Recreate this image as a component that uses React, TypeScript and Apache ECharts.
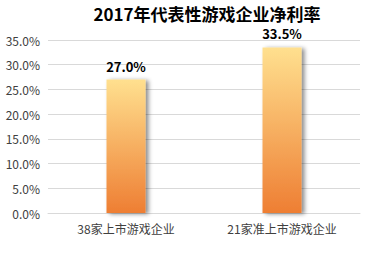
import React, { useEffect, useRef } from "react";
import * as echarts from "echarts";

const categories = ["38家上市游戏企业", "21家准上市游戏企业"];
const values = [27.0, 33.5];
const titleText = "2017年代表性游戏企业净利率";

export default function App() {
  const ref = useRef<HTMLDivElement>(null);
  useEffect(() => {
    const chart = echarts.init(ref.current!, null, { renderer: "svg" });
    chart.setOption({
      animation: false,
      backgroundColor: "#ffffff",
      title: {
        text: titleText,
        left: 202,
        textAlign: "center",
        top: 0,
        textStyle: { fontSize: 17, fontWeight: "bold", color: "#000", fontFamily: "Noto Sans CJK SC" },
      },
      grid: { left: 48, right: 5, top: 40, bottom: 55, containLabel: false },
      xAxis: {
        type: "category",
        data: categories,
        axisLine: { lineStyle: { color: "#d9d9d9" } },
        axisTick: { show: false },
        axisLabel: { color: "#404040", fontSize: 12, margin: 9, fontFamily: "Noto Sans CJK SC" },
      },
      yAxis: {
        type: "value",
        min: 0,
        max: 35,
        interval: 5,
        axisLine: { show: false },
        axisTick: { show: false },
        splitLine: { lineStyle: { color: "#d9d9d9" } },
        axisLabel: {
          color: "#404040",
          fontSize: 12,
          margin: 8,
          fontFamily: "Noto Sans CJK SC",
          formatter: (v: number) => v.toFixed(1) + "%",
        },
      },
      series: [
        {
          type: "bar",
          data: values,
          barWidth: 39,
          itemStyle: {
            color: new echarts.graphic.LinearGradient(0, 0, 0, 1, [
              { offset: 0, color: "#FFE08F" },
              { offset: 1, color: "#EE7E33" },
            ]),
            shadowColor: "rgba(0,0,0,0.45)",
            shadowBlur: 4,
            shadowOffsetX: 3,
            shadowOffsetY: 1,
          },
          label: {
            show: true,
            position: "top",
            distance: 7,
            formatter: (p: any) => p.value.toFixed(1) + "%",
            fontSize: 13,
            fontWeight: "bold",
            color: "#000",
            fontFamily: "Noto Sans CJK SC",
          },
        },
      ],
    });
    return () => chart.dispose();
  }, []);
  return (
    <div
      ref={ref}
      style={{ position: "fixed", left: 0, top: 0, width: 365, height: 268 }}
    />
  );
}
